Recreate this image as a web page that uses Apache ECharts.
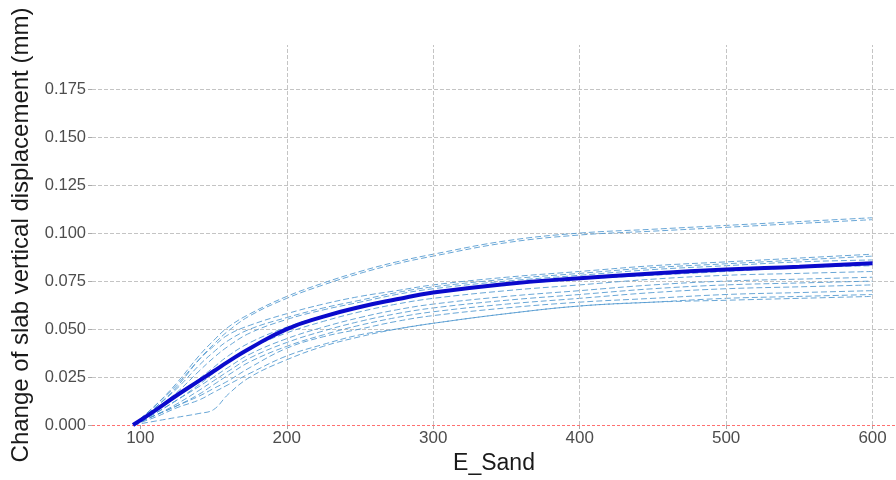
<!DOCTYPE html>
<html>
<head>
<meta charset="utf-8">
<script src="https://cdn.jsdelivr.net/npm/echarts@6/dist/echarts.min.js"></script>
<style>
  html, body { margin: 0; padding: 0; background: #fff; }
  #chart { width: 896px; height: 480px; }
</style>
</head>
<body>
<div id="chart"></div>
<script>
// E_Sand grid where the curves are sampled
var eSand = [95, 110, 125, 140, 150, 160, 175, 200, 225, 250, 275, 300, 350, 400, 450, 500, 550, 600];

// individual (ICE) curves
var iceA1 = [0, 0.010, 0.022, 0.036, 0.044, 0.051, 0.058, 0.067, 0.074, 0.080, 0.085, 0.089, 0.096, 0.100, 0.102, 0.104, 0.106, 0.108];
var iceA2 = [0, 0.009, 0.020, 0.034, 0.042, 0.049, 0.057, 0.066, 0.073, 0.079, 0.084, 0.088, 0.095, 0.099, 0.101, 0.103, 0.105, 0.107];
var iceB1 = [0, 0.010, 0.021, 0.034, 0.041, 0.047, 0.052, 0.058, 0.063, 0.067, 0.070, 0.073, 0.077, 0.080, 0.083, 0.085, 0.087, 0.089];
var iceB2 = [0, 0.009, 0.019, 0.031, 0.038, 0.044, 0.050, 0.056, 0.061, 0.065, 0.069, 0.072, 0.076, 0.079, 0.082, 0.084, 0.086, 0.088];
var iceB3 = [0, 0.008, 0.017, 0.028, 0.035, 0.041, 0.048, 0.055, 0.060, 0.064, 0.068, 0.071, 0.075, 0.078, 0.081, 0.083, 0.085, 0.086];
var iceC1 = [0, 0.007, 0.015, 0.024, 0.030, 0.036, 0.043, 0.051, 0.057, 0.062, 0.066, 0.069, 0.073, 0.076, 0.078, 0.080, 0.082, 0.083];
var iceC2 = [0, 0.006, 0.013, 0.021, 0.027, 0.033, 0.040, 0.048, 0.054, 0.059, 0.063, 0.066, 0.070, 0.073, 0.076, 0.078, 0.079, 0.080];
var iceD1 = [0, 0.006, 0.013, 0.020, 0.025, 0.030, 0.037, 0.045, 0.051, 0.056, 0.060, 0.063, 0.067, 0.070, 0.073, 0.075, 0.076, 0.077];
var iceD2 = [0, 0.005, 0.011, 0.018, 0.023, 0.028, 0.035, 0.043, 0.049, 0.054, 0.058, 0.061, 0.065, 0.068, 0.071, 0.073, 0.074, 0.075];
var iceD3 = [0, 0.005, 0.010, 0.016, 0.021, 0.026, 0.033, 0.041, 0.047, 0.052, 0.056, 0.059, 0.063, 0.066, 0.069, 0.071, 0.072, 0.073];
var iceE1 = [0, 0.005, 0.010, 0.015, 0.019, 0.023, 0.030, 0.040, 0.046, 0.050, 0.054, 0.057, 0.061, 0.064, 0.066, 0.068, 0.069, 0.070];
var iceE2 = [0, 0.004, 0.009, 0.013, 0.017, 0.021, 0.027, 0.036, 0.042, 0.047, 0.050, 0.053, 0.058, 0.062, 0.064, 0.066, 0.067, 0.068];
var iceE3 = [0, 0.002, 0.004, 0.006, 0.008, 0.016, 0.025, 0.034, 0.041, 0.046, 0.050, 0.053, 0.058, 0.062, 0.064, 0.065, 0.066, 0.067];

// average curve (thick dark blue)
var meanCurve = [0, 0.0075, 0.0155, 0.023, 0.028, 0.033, 0.040, 0.050, 0.0565, 0.0615, 0.0655, 0.069, 0.0735, 0.0765, 0.079, 0.081, 0.0825, 0.0843];

var xTicks = [100, 200, 300, 400, 500, 600];
var xGrid = [200, 300, 400, 500, 600];

var iceCurves = [iceA1, iceA2, iceB1, iceB2, iceB3, iceC1, iceC2, iceD1, iceD2, iceD3, iceE1, iceE2, iceE3];

function pairs(xs, ys) {
    return xs.map(function (x, i) { return [x, ys[i]]; });
}

var myChart = echarts.init(document.getElementById('chart'));

var series = iceCurves.map(function (c) {
    return {
        type: 'line',
        data: pairs(eSand, c),
        showSymbol: false,
        smooth: 0.4,
        silent: true,
        lineStyle: { color: '#4f96cf', width: 1, type: [6, 3], opacity: 0.85 }
    };
});

series.push({
    type: 'line',
    data: pairs(eSand, meanCurve),
    showSymbol: false,
    smooth: 0.5,
    z: 5,
    lineStyle: { color: '#0a0acc', width: 4 },
    markLine: {
        silent: true,
        symbol: 'none',
        label: { show: false },
        data: [{ yAxis: 0, lineStyle: { color: '#ff7070', type: [3, 2], width: 1 } }]
            .concat(xGrid.map(function (v) {
                return { xAxis: v, lineStyle: { color: '#c4c4c4', type: [4, 2], width: 1 } };
            }))
    }
});

var option = {
    animation: false,
    grid: { left: 92, right: 0, top: 45, bottom: 55, outerBoundsMode: 'none', containLabel: false },
    xAxis: {
        type: 'value',
        min: 67,
        max: 616,
        name: 'E_Sand',
        nameLocation: 'middle',
        nameGap: 27,
        nameTextStyle: { fontSize: 23, color: '#1a1a1a', fontFamily: 'Liberation Sans' },
        axisLine: { show: false },
        axisTick: { show: true, customValues: xTicks, length: 4, lineStyle: { color: '#aaa' } },
        axisLabel: { customValues: xTicks, fontSize: 17, color: '#4d4d4d', fontFamily: 'Liberation Sans', margin: 5 },
        splitLine: { show: false }
    },
    yAxis: {
        type: 'value',
        min: 0,
        max: 0.198,
        interval: 0.025,
        name: 'Change of slab vertical displacement (mm)',
        nameLocation: 'middle',
        nameGap: 59,
        nameTextStyle: { fontSize: 24, color: '#1a1a1a', fontFamily: 'Liberation Sans' },
        axisLine: { show: false },
        axisTick: { show: true, length: 4, lineStyle: { color: '#aaa' } },
        axisLabel: {
            fontSize: 16.5, color: '#4d4d4d', fontFamily: 'Liberation Sans', margin: 6,
            showMaxLabel: false,
            formatter: function (v) { return v.toFixed(3); }
        },
        splitLine: { show: true, showMaxLine: false, showMinLine: false, lineStyle: { color: '#c4c4c4', type: [4, 2], width: 1 } }
    },
    series: series
};

myChart.setOption(option);
</script>
</body>
</html>
